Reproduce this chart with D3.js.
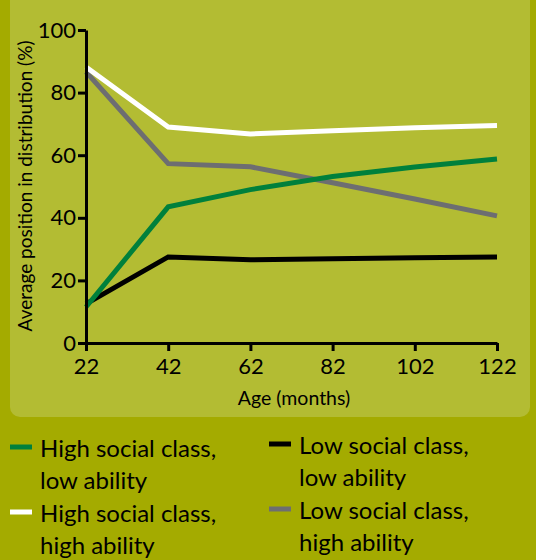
<!DOCTYPE html>
<html><head><meta charset="utf-8">
<script src="https://cdn.jsdelivr.net/npm/d3@7"></script>
<style>body{margin:0;background:#a4ab00;}svg{display:block;}text{font-family:Lato,"Open Sans",sans-serif;fill:#000;}</style>
</head><body>
<svg id="c" width="536" height="560"></svg>
<script>
const ages = [22, 42, 62, 82, 102, 122];
const xTicks = [22, 42, 62, 82, 102, 122];
const yTicks = [0, 20, 40, 60, 80, 100];
const highClassLowAbility = [11.5, 43.5, 49, 53.2, 56.2, 58.8];
const highClassHighAbility = [88.2, 69, 66.8, 67.8, 68.8, 69.5];
const lowClassLowAbility = [12.5, 27.5, 26.6, 26.9, 27.2, 27.5];
const lowClassHighAbility = [86.6, 57.3, 56.3, 51.2, 46, 40.6];
const seriesNames = ["High social class,|low ability", "High social class,|high ability", "Low social class,|low ability", "Low social class,|high ability"];
const seriesColors = ["#00803c", "#ffffff", "#000000", "#6d6e71"];
const seriesData = [highClassLowAbility, highClassHighAbility, lowClassLowAbility, lowClassHighAbility];

const svg = d3.select("#c");
svg.append("rect").attr("x", 0).attr("y", 0).attr("width", 536).attr("height", 560).attr("fill", "#a4ab00");
svg.append("rect").attr("x", 10).attr("y", -20).attr("width", 520).attr("height", 437).attr("rx", 10).attr("fill", "#b3bc33");

const x = d3.scaleLinear().domain([22, 122]).range([86, 497]);
const y = d3.scaleLinear().domain([0, 100]).range([343, 30]);

const line = d3.line().x((d, i) => x(ages[i])).y(d => y(d));
const order = [2, 3, 1, 0];
order.forEach(k => {
  svg.append("path").datum(seriesData[k]).attr("d", line)
    .attr("fill", "none").attr("stroke", seriesColors[k]).attr("stroke-width", 5)
    .attr("stroke-linejoin", "miter");
});

const xAxis = svg.append("g").attr("transform", "translate(0,343)")
  .call(d3.axisBottom(x).tickValues(xTicks).tickSize(8).tickPadding(7).tickSizeOuter(0));
const yAxis = svg.append("g").attr("transform", "translate(86,0)")
  .call(d3.axisLeft(y).tickValues(yTicks).tickSize(8).tickPadding(2).tickSizeOuter(0));
[xAxis, yAxis].forEach(g => {
  g.select(".domain").attr("stroke", "#000").attr("stroke-width", 3);
  g.selectAll(".tick line").attr("stroke", "#000").attr("stroke-width", 3);
  g.selectAll(".tick text").style("font-size", "22px").attr("fill", "#000");
});

svg.append("text").attr("x", 294).attr("y", 405).attr("text-anchor", "middle")
  .style("font-size", "19.5px").text("Age (months)");
svg.append("text").attr("transform", "translate(32,186) rotate(-90)").attr("text-anchor", "middle")
  .style("font-size", "19px").text("Average position in distribution (%)");

const legPos = [[10, 449], [10, 514], [269, 446], [269, 511]];
seriesNames.forEach((n, k) => {
  const [lx, ly] = legPos[k];
  svg.append("line").attr("x1", lx).attr("x2", lx + 22).attr("y1", ly - 2).attr("y2", ly - 2)
    .attr("stroke", seriesColors[k]).attr("stroke-width", 5);
  const parts = n.split("|");
  parts.forEach((p, j) => {
    svg.append("text").attr("x", lx + 30).attr("y", ly + 8 + j * 32)
      .style("font-size", "24px").text(p);
  });
});
</script>
</body></html>
